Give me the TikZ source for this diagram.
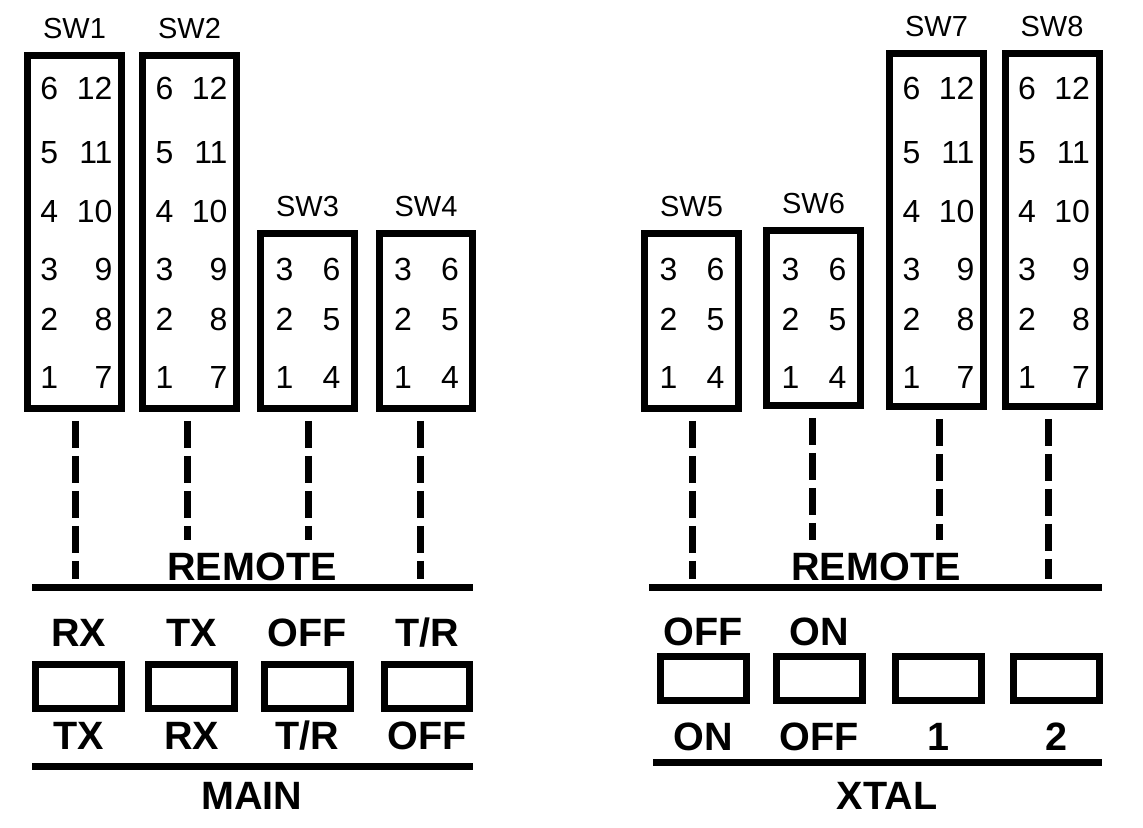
\documentclass[tikz,border=0pt]{standalone}
\usepackage{fontspec}
\setmainfont{Liberation Sans}
\usetikzlibrary{positioning}

\begin{document}
\begin{tikzpicture}[
      x=0.02cm, y=-0.02cm,
      node distance=0.35cm,
      swbox/.style={draw, line width=0.14cm, inner sep=0pt, outer sep=0pt,
          minimum width=1.88cm},
      tallsw/.style={swbox, minimum height=7.06cm},
      shortsw/.style={swbox, minimum height=3.5cm},
      swname/.style={inner sep=0pt, outer sep=0pt, text height=0.42cm, text depth=0pt,
          font=\fontsize{16.5}{16.5}\selectfont},
      digit/.style={inner sep=0pt, outer sep=0pt, font=\fontsize{18.2}{18.2}\selectfont},
      btn/.style={draw, line width=0.14cm, inner sep=0pt, outer sep=0pt,
          minimum width=1.72cm, minimum height=0.88cm},
      word/.style={inner sep=0pt, outer sep=0pt, text height=0.62cm, text depth=0pt,
          font=\bfseries\fontsize{22.5}{22.5}\selectfont},
      link/.style={line width=0.14cm, dash pattern=on 0.54cm off 0.16cm, shorten <=0.25cm},
      bar/.style={line width=0.14cm}
    ]
    \useasboundingbox (0,0) rectangle (1143,828);
    % switch blocks
    \node[tallsw] (sw1) at (74.5,232) {};
    \node[tallsw] (sw2) at (189.5,232) {};
    \node[shortsw] (sw3) at (307.5,321) {};
    \node[shortsw] (sw4) at (426,321) {};
    \node[shortsw] (sw5) at (691.5,321) {};
    \node[shortsw] (sw6) at (813.5,318) {};
    \node[tallsw] (sw7) at (936.5,230) {};
    \node[tallsw] (sw8) at (1052,230) {};
    \node[swname, above=of sw1] (sw1-name) {SW1};
    \node[swname, above=of sw2] (sw2-name) {SW2};
    \node[swname, above=of sw3] (sw3-name) {SW3};
    \node[swname, above=of sw4] (sw4-name) {SW4};
    \node[swname, above=of sw5] (sw5-name) {SW5};
    \node[swname, above=of sw6] (sw6-name) {SW6};
    \node[swname, above=of sw7] (sw7-name) {SW7};
    \node[swname, above=of sw8] (sw8-name) {SW8};
    \foreach \s/\x in {1/74.5, 2/189.5, 7/936.5, 8/1052}
      \foreach \a/\b/\y in {6/12/100, 5/11/163, 4/10/222, 3/9/280, 2/8/330, 1/7/388} {
        \node[digit, anchor=base west] (sw\s-\a) at (\x-34,\y) {\a};
        \node[digit, anchor=base east] (sw\s-\b) at (\x+38,\y) {\b};
      }
    \foreach \s/\x in {3/307.5, 4/426, 5/691.5, 6/813.5}
      \foreach \a/\b/\y in {3/6/280, 2/5/330, 1/4/388} {
        \node[digit, anchor=base west] (sw\s-\a) at (\x-32,\y) {\a};
        \node[digit, anchor=base east] (sw\s-\b) at (\x+33,\y) {\b};
      }
    % remote links
    \coordinate (e1) at (75,579);
    \coordinate (e2) at (187,540);
    \coordinate (e3) at (308,540);
    \coordinate (e4) at (420,579);
    \coordinate (e5) at (692,579);
    \coordinate (e6) at (812,540);
    \coordinate (e7) at (939,540);
    \coordinate (e8) at (1048,579);
    \draw[link] (sw1.south -| e1) -- (e1);
    \draw[link] (sw2.south -| e2) -- (e2);
    \draw[link] (sw3.south -| e3) -- (e3);
    \draw[link] (sw4.south -| e4) -- (e4);
    \draw[link] (sw5.south -| e5) -- (e5);
    \draw[link] (sw6.south -| e6) -- (e6);
    \draw[link] (sw7.south -| e7) -- (e7);
    \draw[link] (sw8.south -| e8) -- (e8);
    % MAIN panel
    \coordinate (main-rl) at (32,587);
    \coordinate (main-rr) at (473,587);
    \coordinate (main-bl) at (32,766);
    \coordinate (main-br) at (473,766);
    \draw[bar] (main-rl) -- (main-rr);
    \draw[bar] (main-bl) -- (main-br);
    \node[word, anchor=base] (main-remote) at (252,580) {REMOTE};
    \node[word, anchor=base] (main-name) at (252,809) {MAIN};
    \node[btn] (main1) at (78.5,686.5) {};
    \node[btn] (main2) at (191.5,686.5) {};
    \node[btn] (main3) at (307.5,686.5) {};
    \node[btn] (main4) at (427,686.5) {};
    \node[word, above=0.37cm of main1] (main1-up) {RX};
    \node[word, above=0.37cm of main2] (main2-up) {TX};
    \node[word, above=0.37cm of main3] (main3-up) {OFF};
    \node[word, above=0.37cm of main4] (main4-up) {T/R};
    \node[word, below=0.21cm of main1] (main1-dn) {TX};
    \node[word, below=0.21cm of main2] (main2-dn) {RX};
    \node[word, below=0.21cm of main3] (main3-dn) {T/R};
    \node[word, below=0.21cm of main4] (main4-dn) {OFF};
    % XTAL panel
    \coordinate (xtal-rl) at (649,587);
    \coordinate (xtal-rr) at (1102,587);
    \coordinate (xtal-bl) at (653,762);
    \coordinate (xtal-br) at (1102,762);
    \draw[bar] (xtal-rl) -- (xtal-rr);
    \draw[bar] (xtal-bl) -- (xtal-br);
    \node[word, anchor=base] (xtal-remote) at (876,580) {REMOTE};
    \node[word, anchor=base] (xtal-name) at (887,809) {XTAL};
    \node[btn] (xtal1) at (703.5,678) {};
    \node[btn] (xtal2) at (819.5,678) {};
    \node[btn] (xtal3) at (938,678) {};
    \node[btn] (xtal4) at (1056,678) {};
    \node[word, above=0.21cm of xtal1] (xtal1-up) {OFF};
    \node[word, above=0.21cm of xtal2] (xtal2-up) {ON};
    \node[word, below=0.39cm of xtal1] (xtal1-dn) {ON};
    \node[word, below=0.39cm of xtal2] (xtal2-dn) {OFF};
    \node[word, below=0.39cm of xtal3] (xtal3-dn) {1};
    \node[word, below=0.39cm of xtal4] (xtal4-dn) {2};
  \end{tikzpicture}
\end{document}
